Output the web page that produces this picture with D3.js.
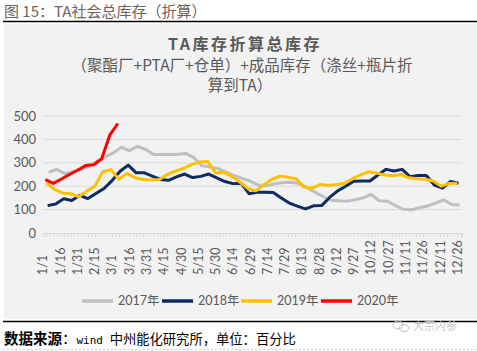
<!DOCTYPE html>
<html lang="zh">
<head>
  <meta charset="utf-8">
  <title>TA社会总库存</title>
  <script src="https://d3js.org/d3.v7.min.js"></script>
  <style>
    body { margin: 0; background: #ffffff; }
    svg { display: block; }
    text { font-family: "Noto Sans CJK SC", sans-serif; }
  </style>
</head>
<body>
  <svg id="chart" width="477" height="351"></svg>

  <script>
    // 横轴标签（每15天一个）
    const dayLabels = ["1/1", "1/16", "1/31", "2/15", "3/1", "3/16", "3/31", "4/15", "4/30",
      "5/15", "5/30", "6/14", "6/29", "7/14", "7/29", "8/13", "8/28", "9/12", "9/27",
      "10/12", "10/27", "11/11", "11/26", "12/11", "12/26"];
    const yTicks = [0, 100, 200, 300, 400, 500];

    // 周度数据，第一周的日期（年内第几天）
    const years = ["2017年", "2018年", "2019年", "2020年"];
    const firstDay = [5, 4, 3, 2];

    const v2017 = [259, 272, 253, 262, 272, 285, 305, 325, 342, 366, 352, 370, 358, 335, 335, 335,
      337, 340, 322, 288, 282, 276, 260, 245, 233, 222, 205, 202, 210, 215, 217, 212, 195, 175,
      157, 140, 138, 136, 142, 150, 165, 138, 136, 118, 101, 99, 108, 115, 128, 142, 122, 120];
    const v2018 = [117, 124, 146, 139, 161, 147, 169, 190, 224, 264, 290, 257, 257, 243, 229, 225,
      240, 252, 237, 242, 252, 236, 220, 211, 213, 168, 174, 174, 173, 150, 128, 115, 103, 116,
      117, 152, 180, 200, 221, 222, 222, 248, 272, 265, 272, 240, 246, 246, 205, 192, 220, 213];
    const v2019 = [214, 186, 171, 168, 155, 179, 200, 262, 271, 229, 255, 236, 229, 226, 229, 250,
      264, 276, 292, 303, 306, 256, 260, 242, 218, 190, 180, 207, 230, 243, 238, 231, 195, 192,
      208, 203, 207, 213, 232, 248, 262, 256, 248, 245, 250, 236, 232, 230, 222, 200, 212, 213];
    const v2020 = [228, 212, 231, 250, 268, 288, 292, 317, 418, 468];

    const seriesValues = [v2017, v2018, v2019, v2020];
    const colors = ["#bfbfbf", "#0d2a63", "#ffc000", "#ff0000"];

    const svg = d3.select("#chart");
    const textColor = "#595959";

    // 顶部标题
    svg.append("text")
        .attr("x", 4).attr("y", 17)
        .attr("fill", "#6e635a")
        .style("font-size", "15px")
        .text("图 15：TA社会总库存（折算）");
    svg.append("line")
        .attr("x1", 3).attr("x2", 477).attr("y1", 21.5).attr("y2", 21.5)
        .attr("stroke", "#000").attr("stroke-width", 1.5);

    // 图表背景
    svg.append("rect")
        .attr("x", 4).attr("y", 24).attr("width", 473).attr("height", 295)
        .attr("fill", "#f2f2f2");

    // 图表标题
    const title = svg.append("g").attr("fill", textColor).attr("text-anchor", "middle");
    title.append("text")
        .attr("x", 245).attr("y", 50)
        .style("font-size", "16px").style("font-weight", "bold").style("letter-spacing", "2.5px")
        .text("TA库存折算总库存");
    title.append("text")
        .attr("x", 242).attr("y", 71)
        .style("font-size", "15.5px")
        .text("（聚酯厂+PTA厂+仓单）+成品库存（涤丝+瓶片折");
    title.append("text")
        .attr("x", 240).attr("y", 91)
        .style("font-size", "15.5px")
        .text("算到TA）");

    const x = d3.scaleLinear().domain([0, 364]).range([43, 462]);
    const y = d3.scaleLinear().domain([0, 500]).range([233, 116]);

    // 网格线
    svg.append("g")
        .selectAll("line")
        .data(yTicks.slice(1))
        .join("line")
          .attr("x1", 44).attr("x2", 462)
          .attr("y1", d => y(d)).attr("y2", d => y(d))
          .attr("stroke", "#d9d9d9").attr("stroke-width", 1);

    // Y轴标签
    svg.append("g")
        .selectAll("text")
        .data(yTicks)
        .join("text")
          .attr("x", 36).attr("y", d => y(d))
          .attr("dy", "0.35em")
          .attr("text-anchor", "end")
          .attr("fill", textColor)
          .style("font-family", "Lato, sans-serif")
          .style("font-size", "13px")
          .text(d => d);

    // X轴
    const xAxis = svg.append("g")
        .attr("transform", `translate(0,${y(0)})`)
        .call(d3.axisBottom(x).tickValues(d3.range(0, 365, 3)).tickSize(4).tickFormat(""));
    xAxis.select(".domain").attr("stroke", "#d9d9d9");
    xAxis.selectAll(".tick line").attr("stroke", "#d9d9d9");

    svg.append("g")
        .selectAll("text")
        .data(dayLabels)
        .join("text")
          .attr("transform", (d, i) => `translate(${x(i * 15)},275) rotate(-90)`)
          .attr("dy", "0.35em")
          .attr("text-anchor", "start")
          .attr("fill", textColor)
          .style("font-family", "Lato, sans-serif")
          .style("font-size", "12.5px")
          .text(d => d);

    // 折线
    const line = d3.line()
        .x(d => x(d.day))
        .y(d => y(d.value));

    seriesValues.forEach((vals, k) => {
      const pts = vals.map((v, i) => ({ day: firstDay[k] + 7 * i, value: v }));
      svg.append("path")
          .datum(pts)
          .attr("fill", "none")
          .attr("stroke", colors[k])
          .attr("stroke-width", 3)
          .attr("stroke-linejoin", "round")
          .attr("d", line);
    });

    // 图例
    const legendX = [82, 162, 241, 321];
    const legend = svg.append("g")
        .selectAll("g")
        .data(years)
        .join("g")
          .attr("transform", (d, i) => `translate(${legendX[i]},301)`);
    legend.append("line")
        .attr("x1", 0).attr("x2", 31)
        .attr("stroke", (d, i) => colors[i])
        .attr("stroke-width", 3.5);
    legend.append("text")
        .attr("x", 36).attr("dy", "0.35em")
        .attr("fill", textColor)
        .style("font-family", "Lato, 'Noto Sans CJK SC', sans-serif")
        .style("font-size", "12.5px")
        .text(d => d);

    // 底部
    svg.append("line")
        .attr("x1", 3).attr("x2", 477).attr("y1", 321.5).attr("y2", 321.5)
        .attr("stroke", "#000").attr("stroke-width", 1.5);

    const wm = svg.append("g").attr("fill", "none").attr("stroke", "#c4c4c4").attr("stroke-width", 1);
    wm.append("ellipse").attr("cx", 398).attr("cy", 325).attr("rx", 5).attr("ry", 4);
    wm.append("ellipse").attr("cx", 404).attr("cy", 328).attr("rx", 4.5).attr("ry", 3.5);
    svg.append("text")
        .attr("x", 413).attr("y", 330)
        .attr("fill", "#c8c8c8")
        .style("font-size", "11px")
        .text("大宗内参");

    const src = svg.append("text")
        .attr("x", 4).attr("y", 344)
        .attr("fill", "#000")
        .style("font-size", "13.3px");
    src.append("tspan").style("font-weight", "bold").style("font-size", "14.5px").text("数据来源");
    src.append("tspan").style("font-size", "14.5px").text("：");
    src.append("tspan").style("font-family", "'DejaVu Sans Mono', monospace").style("font-size", "11px").text("wind ");
    src.append("tspan").text("中州能化研究所，单位：百分比");

    svg.append("line")
        .attr("x1", 3).attr("x2", 477).attr("y1", 349.5).attr("y2", 349.5)
        .attr("stroke", "#d0d0d0").attr("stroke-width", 1).attr("stroke-dasharray", "2,2");
  </script>
</body>
</html>
